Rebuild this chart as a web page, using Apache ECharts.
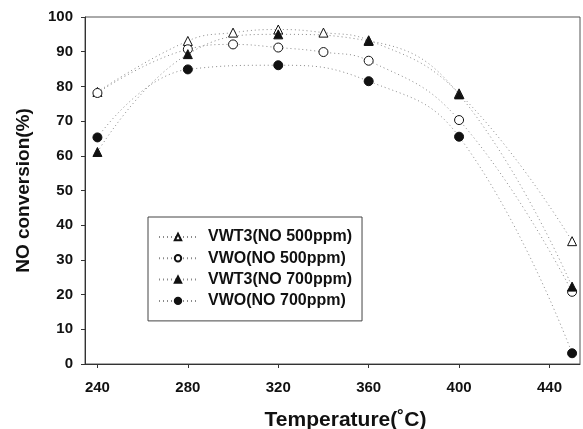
<!DOCTYPE html>
<html>
<head>
<meta charset="utf-8">
<script src="https://cdn.jsdelivr.net/npm/echarts@6/dist/echarts.min.js"></script>
<style>html,body{margin:0;padding:0;background:#fff}#c{width:583px;height:429px}</style>
</head>
<body>
<div id="c"></div>
<script>
var xTicks = [240, 280, 320, 360, 400, 440];
var yTicks = [0, 10, 20, 30, 40, 50, 60, 70, 80, 90, 100];
var seriesNames = ['VWT3(NO 500ppm)', 'VWO(NO 500ppm)', 'VWT3(NO 700ppm)', 'VWO(NO 700ppm)'];
var vwt3_500 = [[240, 78.4], [280, 93.1], [300, 95.5], [320, 96.4], [340, 95.5], [360, 93.3], [400, 78.0], [450, 35.4]];
var vwo_500 = [[240, 78.1], [280, 90.7], [300, 92.1], [320, 91.2], [340, 89.9], [360, 87.4], [400, 70.3], [450, 20.8]];
var vwt3_700 = [[240, 61.1], [280, 89.3], [320, 95.0], [360, 93.1], [400, 77.7], [450, 22.3]];
var vwo_700 = [[240, 65.3], [280, 84.9], [320, 86.1], [360, 81.5], [400, 65.5], [450, 3.1]];

var FONT = 'Liberation Sans, Arial, sans-serif';
function mk(name, data, symbol, filled, size) {
  return {
    name: name, type: 'line', data: data, smooth: 0.45,
    symbol: symbol, symbolSize: size,
    lineStyle: { color: '#8a8a8a', width: 1, type: [1, 3] },
    itemStyle: { color: filled ? '#111' : '#fff', borderColor: '#111', borderWidth: 1 },
    emphasis: { disabled: true }
  };
}
var chart = echarts.init(document.getElementById('c'));
chart.setOption({
  animation: false,
  backgroundColor: '#fff',
  grid: { left: 85, right: 3, top: 17, bottom: 65, show: true, borderColor: '#555', borderWidth: 1,
    containLabel: false, outerBoundsMode: 'none' },
  legend: {
    orient: 'vertical', left: 148, top: 217,
    padding: [12, 10, 12, 10],
    itemWidth: 38, itemHeight: 8, itemGap: 5.3,
    borderColor: '#444', borderWidth: 1, backgroundColor: '#fff',
    textStyle: { fontFamily: FONT, fontWeight: 'bold', fontSize: 16, color: '#111', padding: [0, 0, 0, 6] },
    data: seriesNames
  },
  xAxis: {
    type: 'value', min: 234.5, max: 453.5,
    name: 'Temperature(˚C)', nameLocation: 'middle', nameGap: 46,
    nameTextStyle: { fontFamily: FONT, fontWeight: 'bold', fontSize: 21, color: '#111', padding: [0, 0, 0, 26] },
    axisLine: { lineStyle: { color: '#333', width: 1 } },
    axisTick: { show: true, inside: false, length: 4, customValues: xTicks, lineStyle: { color: '#333' } },
    axisLabel: { customValues: xTicks, margin: 16, fontFamily: FONT, fontWeight: 'bold', fontSize: 15, color: '#111' },
    splitLine: { show: false }
  },
  yAxis: {
    type: 'value', min: 0, max: 100, interval: 10,
    name: 'NO conversion(%)', nameLocation: 'middle', nameGap: 52,
    nameTextStyle: { fontFamily: FONT, fontWeight: 'bold', fontSize: 19, color: '#111' },
    axisLine: { show: true, lineStyle: { color: '#333', width: 1 } },
    axisTick: { show: true, inside: false, length: 4, lineStyle: { color: '#333' } },
    axisLabel: { margin: 12, fontFamily: FONT, fontWeight: 'bold', fontSize: 15, color: '#111',
      formatter: function (v) { return yTicks.indexOf(v) >= 0 ? String(v) : ''; } },
    splitLine: { show: false }
  },
  series: [
    mk(seriesNames[0], vwt3_500, 'triangle', false, 9),
    mk(seriesNames[1], vwo_500, 'circle', false, 9),
    mk(seriesNames[2], vwt3_700, 'triangle', true, 9),
    mk(seriesNames[3], vwo_700, 'circle', true, 9)
  ]
});
</script>
</body>
</html>
